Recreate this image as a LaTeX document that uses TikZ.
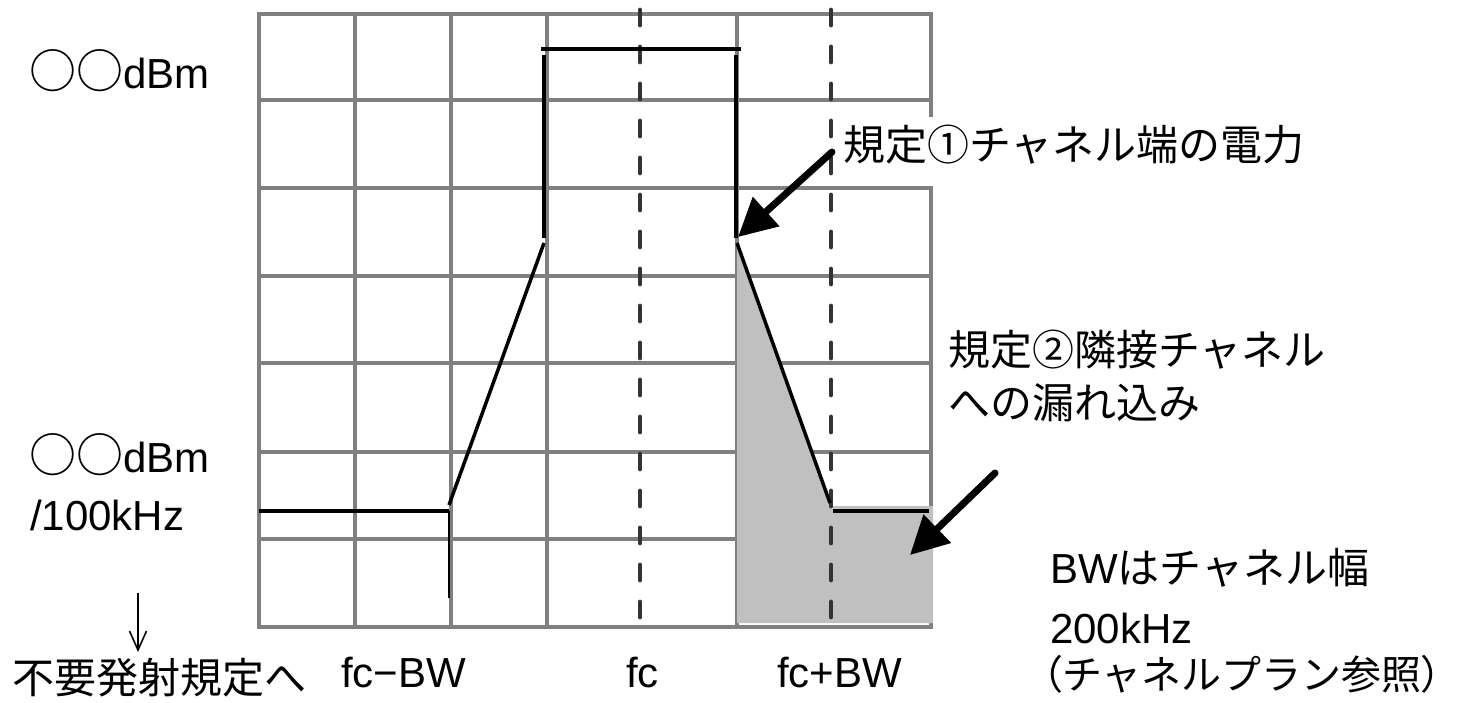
\documentclass[tikz,border=0pt]{standalone}
\usepackage{fontspec}
\setmainfont{Liberation Sans}
\newfontfamily\jp{Noto Sans CJK JP}
\newfontfamily\jpp{Noto Sans CJK JP}[RawFeature=+palt]
\usetikzlibrary{arrows.meta}
\definecolor{gridgray}{HTML}{808080}
\definecolor{shadegray}{HTML}{C0C0C0}
\definecolor{dashgray}{HTML}{333333}
\tikzset{
  gridline/.style={gridgray, line width=4.3pt},
  spec/.style={black, line width=3.5pt},
  centerline/.style={dashgray, line width=4.8pt, line cap=round, dash pattern=on 15pt off 22pt},
  callout/.style={line width=7pt, line cap=round, -{Triangle[length=38pt,width=38pt]}},
  lbl/.style={anchor=base west, inner sep=0pt, text depth=0pt, font=\fontsize{42}{50}\selectfont},
}
\newcommand{\twocircles}{{\jp\fontsize{47}{50}\selectfont ○○}}
\begin{document}
\begin{tikzpicture}[x=1pt,y=-1pt]
\useasboundingbox (0,0) rectangle (1468,702);
% grid
\foreach \x in {259,355,451,547,737,931}
  \draw[gridline] (\x,14) -- (\x,627);
\foreach \y in {14,100,188,276,363,452,539,627}
  \draw[gridline] (257,\y) -- (933,\y);
% shaded leakage area
\fill[shadegray] (737,243) -- (830,506) -- (933,506) -- (933,623) -- (737,623) -- cycle;
% white background of label 1
\fill[white] (836,117) rectangle (1345,186);
% centre / edge dashed lines
\draw[centerline] (640,10) -- (640,617);
\draw[centerline] (831,10) -- (831,617);
% spectrum mask
\draw[spec] (259,511) -- (449,511);
\draw[black, line width=1.5pt] (449,511) -- (449,598);
\draw[spec] (449,505) -- (544,243);
\draw[spec] (544,238) -- (544,55);
\draw[black, line width=4pt] (541,49) -- (741,49);
\draw[spec] (736,55) -- (736,238);
\draw[spec] (737,243) -- (830,503);
\draw[spec] (833,511) -- (929,511);
% labels
\node[lbl] (dbmtop) at (29,88) {\twocircles dBm};
\node[lbl] (rule1) at (843,160) {\jp 規定①チャネル端の電力};
\node[lbl] (rule2a) at (948,365) {\jp 規定②隣接チャネル};
\node[lbl] (rule2b) at (948,418) {\jp への漏れ込み};
\node[lbl] (dbmlow) at (29,472) {\twocircles dBm};
\node[lbl] (perhz) at (30,530) {/100kHz};
\node[lbl] (bw1) at (1050,583) {BW{\jp はチャネル幅}};
\node[lbl] (bw2) at (1050,643) {200kHz};
\node[lbl, font=\fontsize{40}{48}\selectfont] (bw3) at (1042,689) {{\jpp （}{\jp チャネルプラン参照}{\jpp ）}};
\node[lbl] (spur) at (12,693) {\jp 不要発射規定へ};
\node[lbl] (fcm) at (341,687) {fc−BW};
\node[lbl] (fc) at (626,687) {fc};
\node[lbl] (fcp) at (777,687) {fc+BW};
% callout arrows
\coordinate (a1s) at (832,152);
\coordinate (a1e) at (738,237);
\coordinate (a2s) at (995,473);
\coordinate (a2e) at (910,555);
\draw[callout] (a1s) -- (a1e);
\draw[callout] (a2s) -- (a2e);
\coordinate (d1) at (138,593);
\coordinate (d2) at (138,652);
\draw[line width=1.6pt, -{Straight Barb[length=19pt,width=17pt]}] (d1) -- (d2);
\end{tikzpicture}
\end{document}
